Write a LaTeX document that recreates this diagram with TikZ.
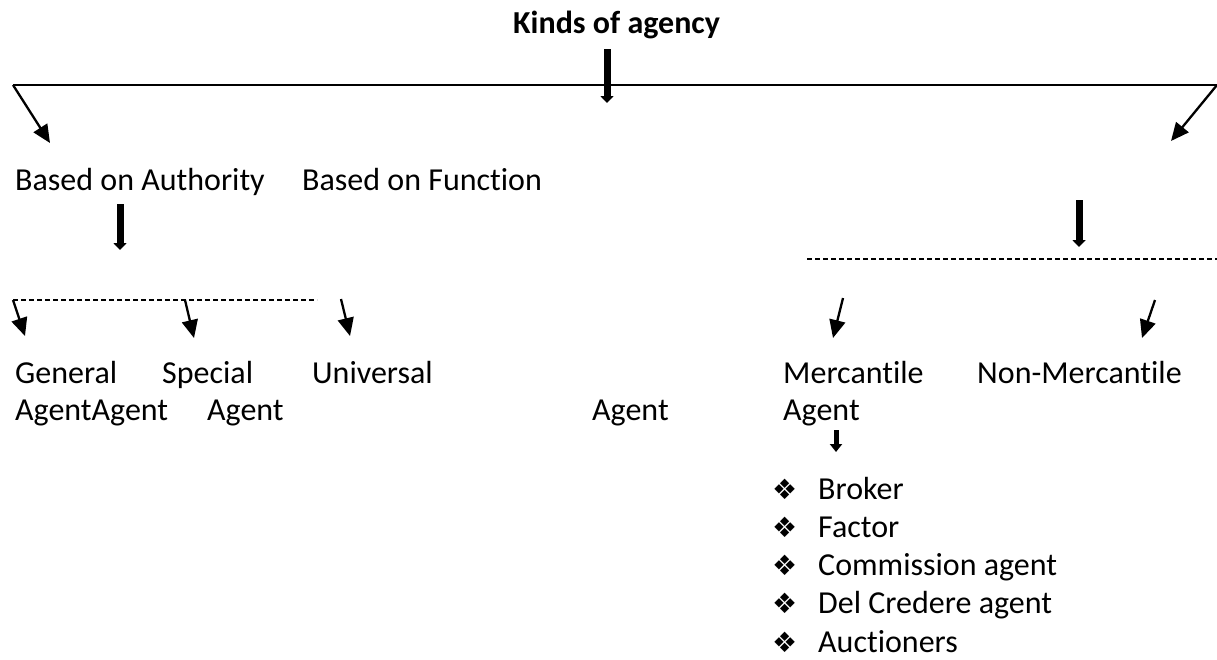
\documentclass[tikz,border=0pt]{standalone}
\usepackage{fontspec}
\setmainfont[Ligatures=NoCommon]{Carlito}
\newfontfamily\symfont{DejaVu Sans}
\usetikzlibrary{arrows.meta}

\tikzset{
  lbl/.style={inner sep=0pt, anchor=base west, font=\fontsize{32}{37}\selectfont},
  thin arrow/.style={line width=2.3pt, -{Triangle[width=16pt,length=18pt]}},
  thick arrow/.style={line width=7pt, -{Triangle[width=13pt,length=7pt]}},
  dash line/.style={line width=1.5pt, dash pattern=on 5pt off 3pt}
}

\begin{document}
\begin{tikzpicture}[x=1pt,y=-1pt]
\useasboundingbox (0,0) rectangle (1217,659);

\node[lbl, font=\fontsize{32}{37}\selectfont\bfseries] (title) at (513,33) {Kinds of agency};

\coordinate (topL) at (13,85);
\coordinate (topR) at (1217,85);
\coordinate (titleA) at (607,49);
\coordinate (titleB) at (607,103);
\coordinate (authTip) at (50,143);
\coordinate (funcTip) at (1171,141);

\draw[line width=2pt] (topL) -- (topR);
\draw[thick arrow] (titleA) -- (titleB);
\draw[thin arrow] (topL) -- (authTip);
\draw[thin arrow] (topR) -- (funcTip);

\node[lbl] (auth) at (15,190) {Based on Authority};
\node[lbl] (func) at (302,190) {Based on Function};

% authority branch
\coordinate (authA) at (120,204);
\coordinate (authB) at (120,250);
\coordinate (dashL) at (13,300);
\coordinate (dashLe) at (317,300);
\coordinate (specA) at (185,300);
\coordinate (univA) at (341,299);
\coordinate (genTip) at (25,336);
\coordinate (specTip) at (194,338);
\coordinate (univTip) at (350,336);

\draw[thick arrow] (authA) -- (authB);
\draw[dash line] (dashL) -- (dashLe);
\draw[thin arrow] (dashL) -- (genTip);
\draw[thin arrow] (specA) -- (specTip);
\draw[thin arrow] (univA) -- (univTip);

\node[lbl] (gen) at (15,383) {General};
\node[lbl] (genag) at (15,420) {AgentAgent};
\node[lbl] (spec) at (162,383) {Special};
\node[lbl] (specag) at (207,420) {Agent};
\node[lbl] (univ) at (312,383) {Universal};
\node[lbl] (univag) at (592,420) {Agent};

% function branch
\coordinate (funcA) at (1079,200);
\coordinate (funcB) at (1079,247);
\coordinate (dashR) at (807,259);
\coordinate (dashRe) at (1217,259);
\coordinate (mercA) at (843,298);
\coordinate (mercTip) at (833,338);
\coordinate (nonA) at (1155,300);
\coordinate (nonTip) at (1142,338);

\draw[thick arrow] (funcA) -- (funcB);
\draw[dash line] (dashR) -- (dashRe);
\draw[thin arrow] (mercA) -- (mercTip);
\draw[thin arrow] (nonA) -- (nonTip);

\node[lbl] (merc) at (783,383) {Mercantile};
\node[lbl] (mercag) at (783,420) {Agent};
\node[lbl] (nonmerc) at (977,383) {Non-Mercantile};

\coordinate (listA) at (836,430);
\coordinate (listB) at (836,452);
\draw[line width=5pt, -{Triangle[width=12pt,length=8pt]}] (listA) -- (listB);

\foreach \txt [count=\i] in {Broker, Factor, Commission agent, Del Credere agent, Auctioners} {
  \node[lbl, font=\fontsize{28}{32}\symfont] (bul\i) at (772,{461+38.2*\i}) {❖};
  \node[lbl] (item\i) at (818,{461+38.2*\i}) {\txt};
}
\end{tikzpicture}
\end{document}
